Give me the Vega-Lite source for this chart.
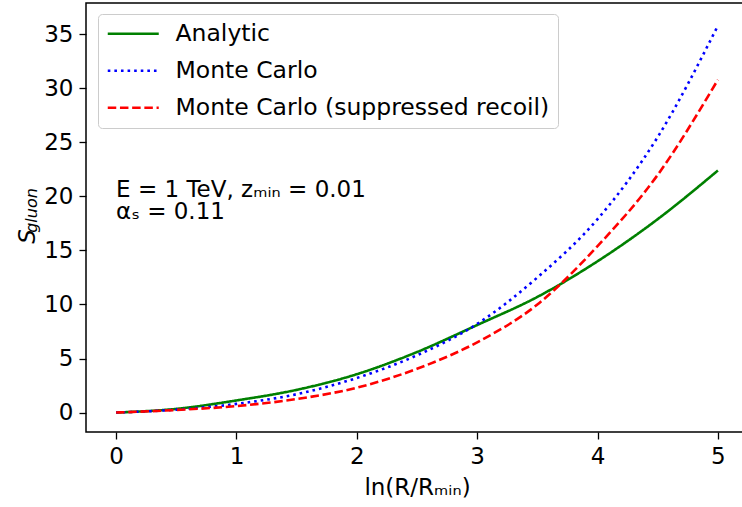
{
  "$schema": "https://vega.github.io/schema/vega-lite/v6.json",
  "width": 662,
  "height": 429,
  "autosize": {"type": "none"},
  "padding": {"left": 86, "top": 3, "right": -6, "bottom": 75},
  "config": {
    "font": "DejaVu Sans",
    "view": {"stroke": "black", "strokeWidth": 1.5},
    "axis": {
      "domain": false,
      "grid": false,
      "tickColor": "black",
      "tickWidth": 1.3,
      "tickSize": 7,
      "labelColor": "black",
      "labelFontSize": 23,
      "labelFont": "DejaVu Sans",
      "labelPadding": 6,
      "titleFont": "DejaVu Sans",
      "titleFontSize": 23,
      "titleFontWeight": "normal",
      "titleColor": "black"
    }
  },
  "datasets": {
    "curves": [
      {"x": 0, "y": 0, "series": "Analytic"},
      {"x": 0.5, "y": 0.34, "series": "Analytic"},
      {"x": 1, "y": 1.12, "series": "Analytic"},
      {"x": 1.5, "y": 2.1, "series": "Analytic"},
      {"x": 2, "y": 3.55, "series": "Analytic"},
      {"x": 2.5, "y": 5.6, "series": "Analytic"},
      {"x": 3, "y": 8.1, "series": "Analytic"},
      {"x": 3.5, "y": 10.7, "series": "Analytic"},
      {"x": 4, "y": 14.0, "series": "Analytic"},
      {"x": 4.5, "y": 17.9, "series": "Analytic"},
      {"x": 5, "y": 22.4, "series": "Analytic"},
      {"x": 0, "y": 0, "series": "Monte Carlo"},
      {"x": 0.5, "y": 0.27, "series": "Monte Carlo"},
      {"x": 1, "y": 0.8, "series": "Monte Carlo"},
      {"x": 1.5, "y": 1.7, "series": "Monte Carlo"},
      {"x": 2, "y": 3.2, "series": "Monte Carlo"},
      {"x": 2.5, "y": 5.3, "series": "Monte Carlo"},
      {"x": 3, "y": 8.2, "series": "Monte Carlo"},
      {"x": 3.5, "y": 12.5, "series": "Monte Carlo"},
      {"x": 4, "y": 17.9, "series": "Monte Carlo"},
      {"x": 4.5, "y": 25.5, "series": "Monte Carlo"},
      {"x": 5, "y": 35.8, "series": "Monte Carlo"},
      {"x": 0, "y": 0, "series": "Monte Carlo (suppressed recoil)"},
      {"x": 0.5, "y": 0.24, "series": "Monte Carlo (suppressed recoil)"},
      {"x": 1, "y": 0.6, "series": "Monte Carlo (suppressed recoil)"},
      {"x": 1.5, "y": 1.25, "series": "Monte Carlo (suppressed recoil)"},
      {"x": 2, "y": 2.3, "series": "Monte Carlo (suppressed recoil)"},
      {"x": 2.5, "y": 4.05, "series": "Monte Carlo (suppressed recoil)"},
      {"x": 3, "y": 6.5, "series": "Monte Carlo (suppressed recoil)"},
      {"x": 3.5, "y": 10.0, "series": "Monte Carlo (suppressed recoil)"},
      {"x": 4, "y": 15.4, "series": "Monte Carlo (suppressed recoil)"},
      {"x": 4.5, "y": 22.0, "series": "Monte Carlo (suppressed recoil)"},
      {"x": 5, "y": 30.8, "series": "Monte Carlo (suppressed recoil)"}
    ],
    "notes": [
      {"x": 0, "y": 19.95, "label": "E = 1 TeV, zₘᵢₙ = 0.01"},
      {"x": 0, "y": 17.95, "label": "αₛ = 0.11"}
    ]
  },
  "layer": [
    {
      "data": {"name": "curves"},
      "mark": {"type": "line", "strokeWidth": 2.6, "interpolate": "monotone", "clip": true},
      "encoding": {
        "x": {
          "field": "x", "type": "quantitative",
          "scale": {"domain": [-0.25, 5.25], "nice": false, "zero": false},
          "axis": {"values": [0, 1, 2, 3, 4, 5], "format": "d", "title": "ln(R/Rₘᵢₙ)", "titlePadding": 8, "labelFlush": false}
        },
        "y": {
          "field": "y", "type": "quantitative",
          "scale": {"domain": [-1.8, 37.9], "nice": false, "zero": false},
          "axis": {"values": [0, 5, 10, 15, 20, 25, 30, 35], "format": "d", "title": null, "labelFlush": false}
        },
        "color": {
          "field": "series", "type": "nominal",
          "scale": {
            "domain": ["Analytic", "Monte Carlo", "Monte Carlo (suppressed recoil)"],
            "range": ["#008000", "#0000ff", "#ff0000"]
          },
          "legend": {
            "title": null,
            "orient": "none",
            "legendX": 12,
            "legendY": 11,
            "padding": 8,
            "symbolType": "M-1,0H4.1",
            "symbolSize": 400,
            "symbolStrokeWidth": 2.6,
            "labelFontSize": 23.5,
            "labelFont": "DejaVu Sans",
            "labelColor": "black",
            "labelOffset": 46,
            "labelLimit": 0,
            "rowPadding": 12,
            "strokeColor": "#cccccc",
            "fillColor": "rgba(255,255,255,0.8)",
            "cornerRadius": 4
          }
        },
        "strokeDash": {
          "field": "series", "type": "nominal",
          "scale": {
            "domain": ["Analytic", "Monte Carlo", "Monte Carlo (suppressed recoil)"],
            "range": [[1, 0], [2.6, 4.0], [8.5, 3.7]]
          },
          "legend": null
        }
      }
    },
    {
      "data": {"name": "notes"},
      "mark": {"type": "text", "align": "left", "baseline": "alphabetic", "fontSize": 23, "font": "DejaVu Sans", "color": "black"},
      "encoding": {
        "x": {"field": "x", "type": "quantitative"},
        "y": {"field": "y", "type": "quantitative"},
        "text": {"field": "label"}
      }
    },
    {
      "data": {"values": [
        {"x": -0.735, "y": 16.3, "label": "S", "size": 23},
        {"x": -0.70, "y": 18.7, "label": "gluon", "size": 16}
      ]},
      "mark": {"type": "text", "angle": 270, "align": "center", "baseline": "middle", "fontStyle": "italic", "font": "DejaVu Sans", "color": "black"},
      "encoding": {
        "x": {"field": "x", "type": "quantitative"},
        "y": {"field": "y", "type": "quantitative"},
        "text": {"field": "label"},
        "size": {"field": "size", "type": "quantitative", "scale": null, "legend": null}
      }
    }
  ]
}
